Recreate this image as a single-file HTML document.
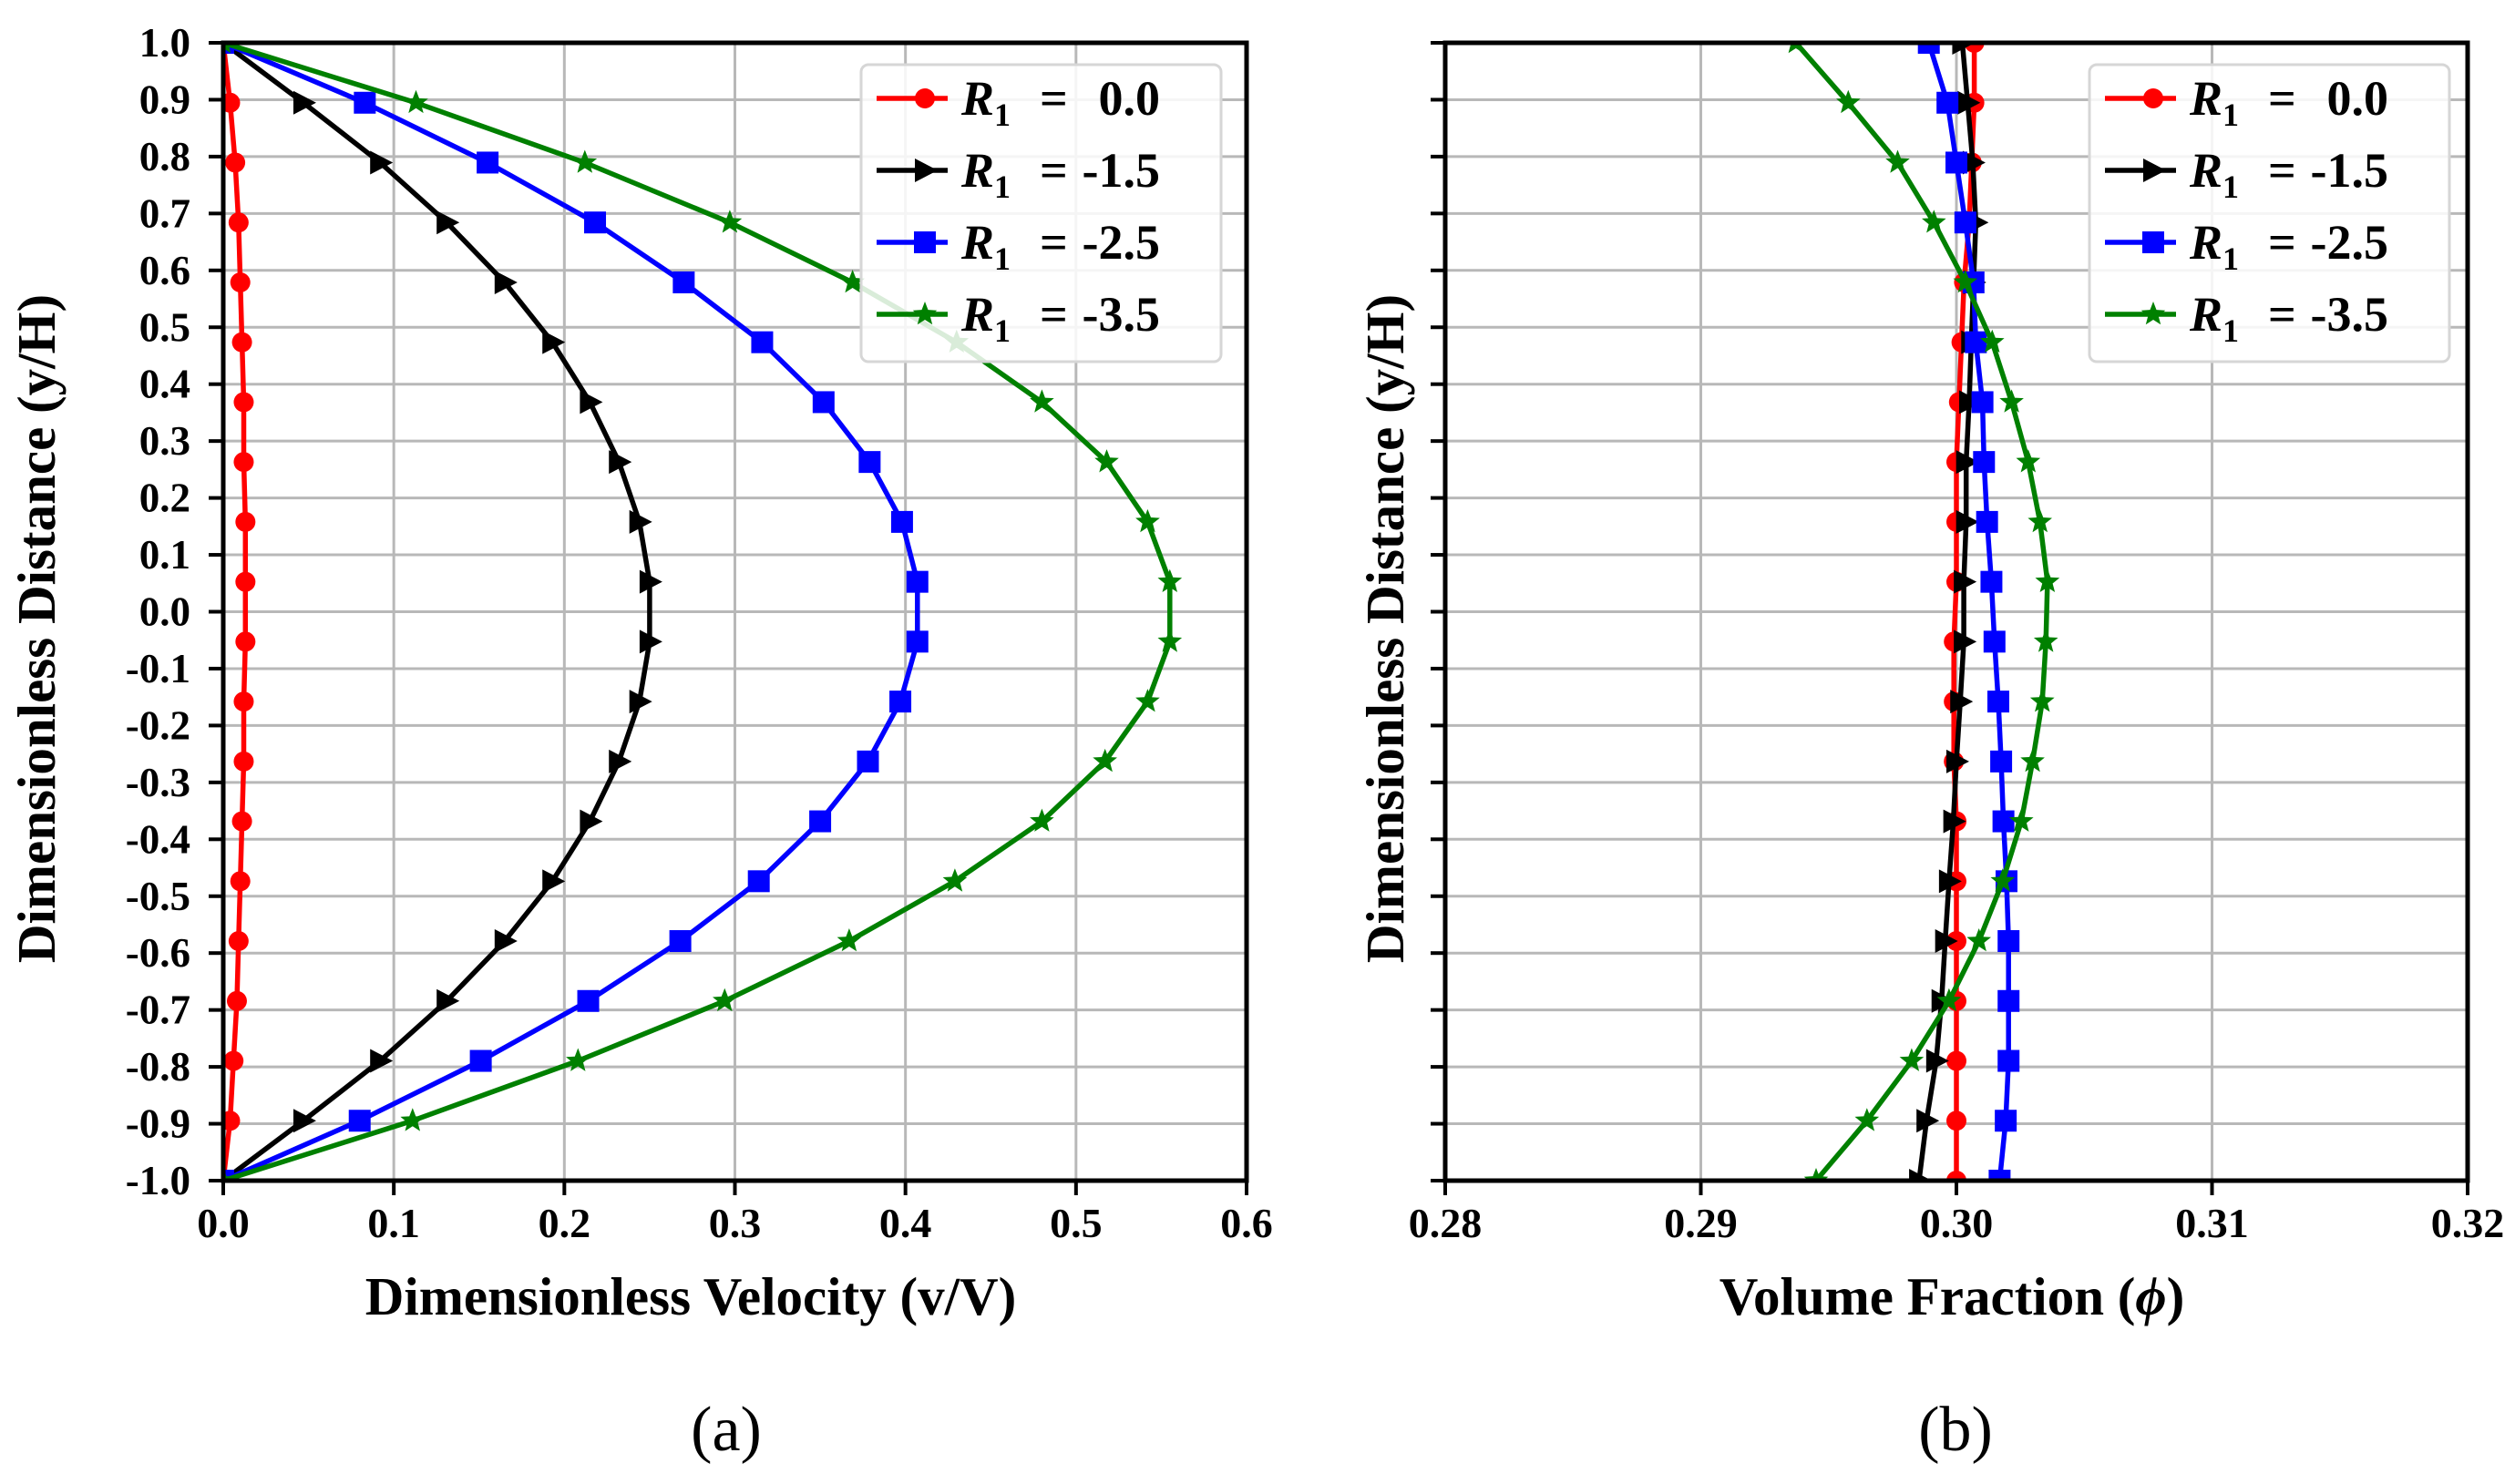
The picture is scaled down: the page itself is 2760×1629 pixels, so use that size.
<!DOCTYPE html>
<html><head><meta charset="utf-8">
<style>
html,body{margin:0;padding:0;background:#fff;}
svg{display:block;font-family:"Liberation Serif",serif;}
</style></head>
<body>
<svg id="fig" width="2760" height="1629" viewBox="0 0 2760 1629" xmlns="http://www.w3.org/2000/svg"></svg>
<script>
const yLevels = [1.0,0.8947,0.7895,0.6842,0.5789,0.4737,0.3684,0.2632,0.1579,0.0526,-0.0526,-0.1579,-0.2632,-0.3684,-0.4737,-0.5789,-0.6842,-0.7895,-0.8947,-1.0];
const seriesLabels = ["0.0","-1.5","-2.5","-3.5"];
const velR0 = [0,0.004,0.007,0.009,0.010,0.011,0.012,0.012,0.013,0.013,0.013,0.012,0.012,0.011,0.010,0.009,0.008,0.006,0.004,0];
const velR15 = [0,0.047,0.092,0.131,0.165,0.193,0.215,0.232,0.244,0.250,0.250,0.244,0.232,0.215,0.193,0.165,0.131,0.092,0.047,0];
const velR25 = [0,0.083,0.155,0.218,0.270,0.316,0.352,0.379,0.398,0.407,0.407,0.397,0.378,0.350,0.314,0.268,0.214,0.151,0.080,0];
const velR35 = [0,0.113,0.212,0.297,0.369,0.430,0.480,0.518,0.542,0.555,0.555,0.542,0.517,0.480,0.429,0.367,0.294,0.208,0.111,0];
const phiR0 = [0.3007,0.3007,0.3006,0.3005,0.3003,0.3002,0.3001,0.3000,0.3000,0.3000,0.2999,0.2999,0.2999,0.3000,0.3000,0.3000,0.3000,0.3000,0.3000,0.3000];
const phiR15 = [0.30023,0.30044,0.30064,0.30076,0.30067,0.30058,0.3005,0.30038,0.30038,0.30029,0.30029,0.30015,0.3000,0.29988,0.29971,0.29956,0.29942,0.29921,0.29883,0.29854];
const phiR25 = [0.29892,0.29965,0.3000,0.30035,0.30067,0.30076,0.30102,0.30108,0.3012,0.30137,0.30149,0.30164,0.30175,0.30184,0.30196,0.30204,0.30204,0.30204,0.30193,0.30169];
const phiR35 = [0.29372,0.29577,0.2977,0.29912,0.30035,0.3014,0.30216,0.30281,0.30327,0.30356,0.3035,0.30336,0.30298,0.30254,0.30181,0.30088,0.29971,0.29825,0.2965,0.29451];
const yTicks = [1.0,0.9,0.8,0.7,0.6,0.5,0.4,0.3,0.2,0.1,0.0,-0.1,-0.2,-0.3,-0.4,-0.5,-0.6,-0.7,-0.8,-0.9,-1.0];
const velTicks = [0,0.1,0.2,0.3,0.4,0.5,0.6];
const phiTicks = [0.28,0.29,0.30,0.31,0.32];

const NS="http://www.w3.org/2000/svg";
const svg=document.getElementById('fig');
function mk(tag,attrs,parent){const e=document.createElementNS(NS,tag);for(const k in attrs)e.setAttribute(k,attrs[k]);(parent||svg).appendChild(e);return e;}
const colors=["#ff0000","#000000","#0000ff","#008000"];
const markers=["circle","tri","square","star"];

function drawMarker(g,type,x,y,c){
  let e;
  if(type==="circle"){e=mk('circle',{cx:x,cy:y,r:11,fill:c},g);}
  else if(type==="square"){e=mk('rect',{x:x-12,y:y-12,width:24,height:24,fill:c},g);}
  else if(type==="tri"){e=mk('polygon',{points:`${x+14},${y} ${x-11},${y-13} ${x-11},${y+13}`,fill:c},g);}
  else {let p=[];for(let i=0;i<10;i++){const r=i%2?6:14;const a=-Math.PI/2+i*Math.PI/5;p.push((x+r*Math.cos(a)).toFixed(1)+','+(y+r*Math.sin(a)).toFixed(1));}
    e=mk('polygon',{points:p.join(' '),fill:c},g);}
  
  
}

function panel(opt){
  const {L,R,T,B,xmin,xmax,xticks,xfmt,series,name,ylabels,xtitle,xtitleX,ytitleX,legX,id}=opt;
  const sx=v=>L+(v-xmin)/(xmax-xmin)*(R-L);
  const sy=v=>T+(1-v)/2*(B-T);
  const g=mk('g',{});
  
  
  yTicks.forEach(t=>{const l=mk('line',{x1:L,x2:R,y1:sy(t),y2:sy(t),stroke:'#b8b8b8','stroke-width':3},g);
    });
  xticks.forEach(t=>{const l=mk('line',{x1:sx(t),x2:sx(t),y1:T,y2:B,stroke:'#b8b8b8','stroke-width':3},g);
    });
  const cp=mk('clipPath',{id:id+'clip'},g);mk('rect',{x:L,y:T,width:R-L,height:B-T},cp);
  const sg=mk('g',{'clip-path':`url(#${id}clip)`},g);
  series.forEach((vals,si)=>{
    const sgg=mk('g',{},sg);
    
    
    const pts=vals.map((v,i)=>sx(v).toFixed(1)+','+sy(yLevels[i]).toFixed(1)).join(' ');
    const pl=mk('polyline',{points:pts,fill:'none',stroke:colors[si],'stroke-width':5.5,'stroke-linejoin':'round'},sgg);
    
    vals.forEach((v,i)=>drawMarker(sgg,markers[si],sx(v),sy(yLevels[i]),colors[si]));
  });
  const fr=mk('rect',{x:L,y:T,width:R-L,height:B-T,fill:'none',stroke:'#000','stroke-width':5},g);
  
  yTicks.forEach(t=>{mk('line',{x1:L-16,x2:L,y1:sy(t),y2:sy(t),stroke:'#000','stroke-width':4},g);
    if(ylabels){const tx=mk('text',{x:L-36,y:sy(t)+15,'text-anchor':'end','font-size':45,'font-weight':'bold'},g);
      tx.textContent=t.toFixed(1);}});
  xticks.forEach(t=>{mk('line',{x1:sx(t),x2:sx(t),y1:B,y2:B+16,stroke:'#000','stroke-width':4},g);
    const tx=mk('text',{x:sx(t),y:B+62,'text-anchor':'middle','font-size':46,'font-weight':'bold'},g);
    tx.textContent=xfmt(t);});
  const xt=mk('text',{x:xtitleX,y:1443,'text-anchor':'middle','font-size':59,'font-weight':'bold'},g);
  xt.innerHTML=xtitle;
  const yt=mk('text',{x:0,y:0,'text-anchor':'middle','font-size':59,'font-weight':'bold',transform:`translate(${ytitleX},690) rotate(-90)`},g);
  yt.textContent='Dimensionless Distance (y/H)';
  const lg=mk('g',{},g);
  mk('rect',{x:legX,y:71,width:395,height:326,rx:8,fill:'#fff','fill-opacity':0.85,stroke:'#d6d6d6','stroke-width':3},lg);
  seriesLabels.forEach((s,i)=>{const y=108+i*79;
    const e=mk('g',{},lg);
    mk('line',{x1:legX+17,x2:legX+95,y1:y,y2:y,stroke:colors[i],'stroke-width':5.5},e);
    drawMarker(e,markers[i],legX+70,y,colors[i]);
    const t=mk('text',{x:legX+110,y:y+18,'font-size':54,'font-weight':'bold'},e);
    t.innerHTML=`<tspan font-style="italic">R</tspan><tspan font-size="36" dy="12">1</tspan>`;
    const eq=mk('text',{x:legX+196,y:y+18,'font-size':54,'font-weight':'bold'},e);eq.textContent='=';
    const v=mk('text',{x:legX+328,y:y+18,'font-size':54,'font-weight':'bold','text-anchor':'end'},e);v.textContent=s;
  });
}
panel({id:'a',L:245,R:1368,T:47,B:1296,xmin:0,xmax:0.6,xticks:velTicks,xfmt:t=>t.toFixed(1),
  series:[velR0,velR15,velR25,velR35],name:'velocity-chart',ylabels:true,
  xtitle:'Dimensionless Velocity (v/V)',xtitleX:758,ytitleX:60,legX:945});
panel({id:'b',L:1586,R:2708,T:47,B:1296,xmin:0.28,xmax:0.32,xticks:phiTicks,xfmt:t=>t.toFixed(2),
  series:[phiR0,phiR15,phiR25,phiR35],name:'volume-fraction-chart',ylabels:false,
  xtitle:'Volume Fraction (<tspan font-style="italic">ϕ</tspan>)',xtitleX:2142,ytitleX:1540,legX:2293});
const pa=mk('text',{x:797,y:1592,'text-anchor':'middle','font-size':70});pa.textContent='(a)';

const pb=mk('text',{x:2146,y:1592,'text-anchor':'middle','font-size':70});pb.textContent='(b)';

</script>
</body></html>
